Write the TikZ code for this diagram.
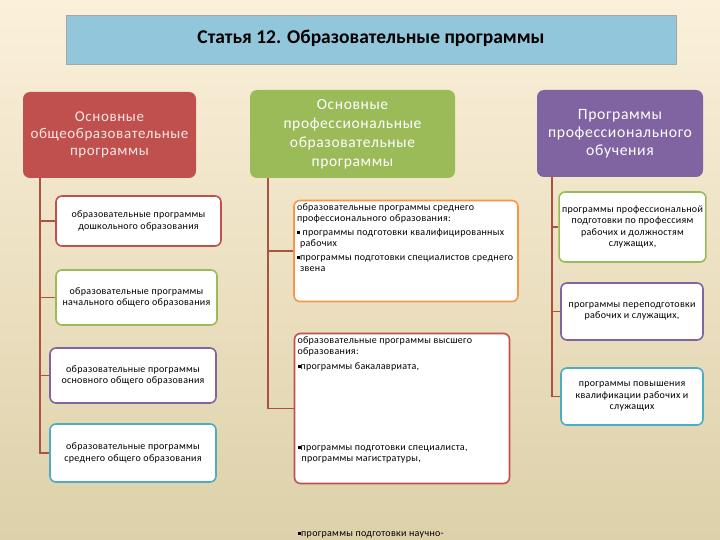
\documentclass[tikz,border=0pt]{standalone}
\usepackage{fontspec}
\setmainfont{Carlito}
\newfontfamily\headfont[LetterSpace=4]{Carlito}
\newfontfamily\smallfont[LetterSpace=3]{Carlito}
\usepackage{xcolor}
\definecolor{bgtop}{RGB}{251,240,218}
\definecolor{bgbot}{RGB}{221,209,170}
\definecolor{ttblue}{RGB}{146,198,218}
\definecolor{hdred}{RGB}{192,80,77}
\definecolor{hdgreen}{RGB}{155,187,89}
\definecolor{hdpurple}{RGB}{128,100,162}
\definecolor{hdteal}{RGB}{75,172,198}
\definecolor{hdorange}{RGB}{247,150,70}
\definecolor{linkred}{RGB}{172,82,66}
\usetikzlibrary{positioning}
\tikzset{
  titlebox/.style={draw=gray!70,fill=ttblue,line width=0.8pt,minimum width=610pt,minimum height=49pt,font=\fontsize{19.5}{22}\selectfont\bfseries},
  headbox/.style={fill=#1,rounded corners=7pt,align=center,text=white,inner sep=2pt,font=\headfont\fontsize{15}{17}\selectfont},
  subbox/.style={draw=#1,line width=1.6pt,fill=white,rounded corners=6pt,align=center,inner sep=3pt,font=\smallfont\fontsize{10}{11.5}\selectfont},
  link/.style={draw=linkred,line width=1.6pt},
}
\newcommand\sqb{\rule[0.3ex]{3pt}{3pt}}

\begin{document}
\begin{tikzpicture}[x=1pt,y=-1pt]
\useasboundingbox (0,0) rectangle (720,540);
\shade[top color=bgtop,bottom color=bgbot] (0,0) rectangle (720,540);
\node[titlebox] (title) at (371,39.5) {\raisebox{6pt}{Статья 12. Образовательные программы}};
% heads
\node[headbox=hdred,minimum width=173pt,minimum height=86pt,text={rgb,255:red,250;green,230;blue,228}] (obsh) at (109.5,135) {Основные\\общеобразовательные\\программы};
\node[headbox=hdgreen,minimum width=205pt,minimum height=88pt,font=\headfont\fontsize{15.5}{19}\selectfont] (prof) at (352.5,134) {Основные\\профессиональные\\образовательные\\программы};
\node[headbox=hdpurple,minimum width=166pt,minimum height=87pt,font=\headfont\fontsize{15.7}{18}\selectfont] (obuch) at (620,133.5) {Программы\\профессионального\\обучения};
% general education
\node[subbox=hdred,minimum width=165pt,minimum height=50pt] (doshk) at (138.5,221) {образовательные программы\\дошкольного образования};
\node[subbox=hdgreen,minimum width=161pt,minimum height=55pt] (nach) at (136.5,297.5) {образовательные программы\\начального общего образования};
\node[subbox=hdpurple,minimum width=166pt,minimum height=55pt] (osn) at (133,375.5) {образовательные программы\\основного общего образования};
\node[subbox=hdteal,minimum width=166pt,minimum height=58pt] (sred) at (133,453) {образовательные программы\\среднего общего образования};
% professional education
\node[subbox=hdorange,align=left] (spo) at (406,251) {\parbox[c][95pt][t]{218pt}{\raggedright
образовательные программы среднего\\
профессионального образования:\\[2pt]
\sqb\ программы подготовки квалифицированных\\
\hspace*{3pt}рабочих\\[2pt]
\sqb программы подготовки специалистов среднего\\
\hspace*{3pt}звена}};
\node[subbox=hdred,align=left] (vo) at (402,408.5) {\parbox[c][144pt][t]{209pt}{\raggedright
образовательные программы высшего\\
образования:\\[3pt]
\sqb программы бакалавриата,\par\vfill
\sqb программы подготовки специалиста,\\
\hspace*{4pt}программы магистратуры,\par\vspace{17pt}}};
\node[anchor=base west,inner sep=0pt,font=\smallfont\fontsize{10}{11.5}\selectfont] (nauch) at (298,536) {\sqb программы подготовки научно-};
% vocational training
\node[subbox=hdgreen,minimum width=141pt,minimum height=70pt] (podg) at (632.5,227) {программы профессиональной\\подготовки по профессиям\\рабочих и должностям\\служащих,};
\node[subbox=hdpurple,minimum width=142pt,minimum height=57pt] (perep) at (632,311.5) {программы переподготовки\\рабочих и служащих,};
\node[subbox=hdteal,minimum width=142pt,minimum height=57pt] (povysh) at (632,396.5) {программы повышения\\квалификации рабочих и\\служащих};
% links
\foreach \c in {doshk,nach,osn,sred}
  \draw[link] ([xshift=17pt]obsh.south west) |- (\c.west);
\foreach \c in {spo,vo}
  \draw[link] ([xshift=18pt]prof.south west) |- (\c.west);
\foreach \c in {podg,perep,povysh}
  \draw[link] ([xshift=15pt]obuch.south west) |- (\c.west);
\end{tikzpicture}
\end{document}
